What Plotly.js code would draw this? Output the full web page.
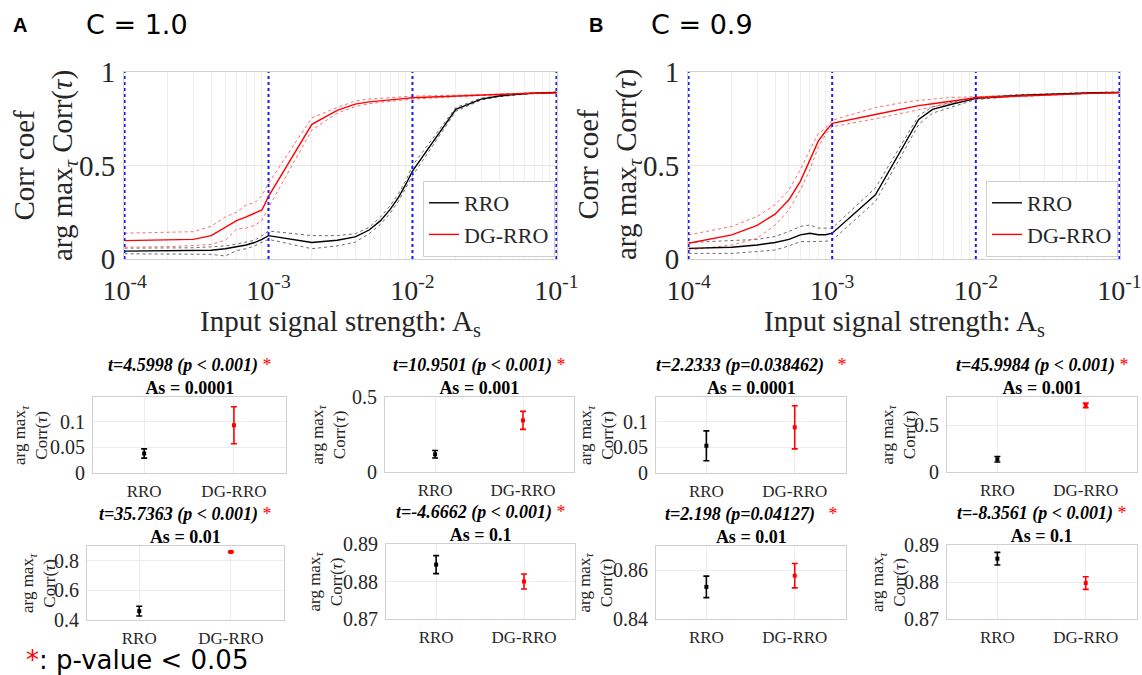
<!DOCTYPE html>
<html><head><meta charset="utf-8">
<script src="https://cdn.plot.ly/plotly-3.0.1.min.js"></script>
<style>html,body{margin:0;padding:0;background:#fff}#chart{width:1142px;height:675px}</style>
</head><body><div id="chart"></div>
<script>
// ---------------- DATA ----------------
const signalStrength = [1e-4,2e-4,3e-4,4e-4,5e-4,6e-4,7e-4,8e-4,9e-4,
  1e-3,2e-3,3e-3,4e-3,5e-3,6e-3,7e-3,8e-3,9e-3,
  1e-2,2e-2,3e-2,4e-2,5e-2,6e-2,7e-2,8e-2,9e-2,1e-1];
const decadeMarks = [1e-4,1e-3,1e-2,1e-1];
const decadeLabels = ['10<sup>-4</sup>','10<sup>-3</sup>','10<sup>-2</sup>','10<sup>-1</sup>'];

// Panel A (C = 1.0)
const rroMeanA  = [.042,.043,.044,.047,.055,.065,.075,.088,.105,.125,.088,.100,.118,.155,.205,.265,.330,.400,.470,.800,.855,.872,.880,.884,.887,.889,.890,.891];
const rroUpA    = [.058,.058,.060,.065,.070,.080,.090,.100,.125,.150,.125,.125,.135,.170,.225,.285,.350,.420,.500,.810,.860,.875,.883,.887,.889,.891,.892,.893];
const rroLoA    = [.028,.027,.026,.025,.016,.045,.055,.070,.090,.105,.055,.070,.090,.135,.185,.245,.310,.380,.445,.790,.850,.868,.877,.881,.885,.887,.888,.889];
const dgMeanA   = [.098,.100,.105,.125,.168,.205,.225,.243,.262,.335,.720,.795,.828,.840,.847,.852,.856,.859,.862,.872,.878,.881,.883,.885,.886,.887,.888,.888];
const dgUpA     = [.138,.142,.146,.175,.225,.250,.290,.300,.340,.405,.755,.810,.845,.855,.860,.864,.867,.869,.871,.876,.880,.883,.885,.886,.887,.888,.889,.889];
const dgLoA     = [.063,.066,.072,.078,.100,.160,.165,.180,.205,.275,.690,.780,.815,.830,.838,.843,.848,.852,.855,.868,.876,.879,.881,.883,.884,.885,.886,.887];

// Panel B (C = 0.9)
const rroMeanB  = [.057,.063,.075,.088,.105,.129,.138,.130,.130,.138,.343,.576,.746,.800,.818,.830,.840,.850,.859,.875,.881,.885,.887,.888,.889,.890,.891,.891];
const rroUpB    = [.088,.100,.105,.120,.147,.174,.182,.165,.165,.165,.380,.606,.767,.814,.830,.840,.850,.858,.866,.879,.884,.887,.889,.890,.891,.892,.892,.893];
const rroLoB    = [.030,.030,.040,.048,.070,.093,.093,.093,.095,.100,.308,.546,.720,.780,.800,.815,.830,.842,.853,.871,.878,.882,.885,.886,.887,.888,.889,.890];
const dgMeanB   = [.084,.129,.180,.240,.317,.415,.530,.630,.683,.725,.773,.800,.820,.830,.838,.845,.851,.857,.862,.872,.878,.881,.884,.886,.887,.888,.889,.889];
const dgUpB     = [.129,.174,.227,.290,.370,.477,.585,.670,.700,.742,.810,.835,.848,.857,.861,.864,.866,.867,.868,.876,.881,.884,.886,.888,.889,.890,.890,.891];
const dgLoB     = [.048,.075,.110,.182,.263,.370,.477,.600,.665,.707,.750,.780,.800,.814,.825,.835,.843,.850,.857,.868,.875,.879,.882,.884,.885,.886,.887,.888];

// Small comparison panels
const groups = ['RRO','DG-RRO'];
const asLabels = ['As = 0.0001','As = 0.001','As = 0.01','As = 0.1'];
const tStatsA = ['t=4.5998 (p &lt; 0.001)','t=10.9501 (p &lt; 0.001)','t=35.7363 (p &lt; 0.001)','t=-4.6662 (p &lt; 0.001)'];
const tStatsB = ['t=2.2333 (p=0.038462)&nbsp;&nbsp;','t=45.9984 (p &lt; 0.001)','t=2.198 (p=0.04127)&nbsp;&nbsp;','t=-8.3561 (p &lt; 0.001)'];
const smallRroMeanA = [0.038, 0.118, 0.460, 0.8845];
const smallRroErrA  = [0.009, 0.025, 0.033, 0.0024];
const smallDgMeanA  = [0.093, 0.344, 0.860, 0.8800];
const smallDgErrA   = [0.036, 0.060, 0.004, 0.0020];
const smallRroMeanB = [0.053, 0.136, 0.8532, 0.8863];
const smallRroErrB  = [0.029, 0.030, 0.0044, 0.0017];
const smallDgMeanB  = [0.089, 0.710, 0.8578, 0.8797];
const smallDgErrB   = [0.042, 0.025, 0.0050, 0.0017];
const smallYTicks = [[0,0.05,0.1],[0,0.5],[0.4,0.6,0.8],[0.87,0.88,0.89]];
const smallYTicksB = [[0,0.05,0.1],[0,0.5],[0.84,0.86],[0.87,0.88,0.89]];
const smallYRangeA = [[0,0.148],[0,0.5],[0.4,0.9],[0.87,0.89]];
const smallYRangeB = [[0,0.148],[0,0.8],[0.84,0.87],[0.87,0.89]];

// ---------------- LAYOUT HELPERS ----------------
const W = 1142, H = 675;
const fx = p => p / W, fy = p => 1 - p / H;
const SERIF = 'Liberation Serif, Times New Roman, serif';
const SANS = 'DejaVu Sans, sans-serif';
const TXT = '#262626';

const minorVals = [];
[1e-4,1e-3,1e-2].forEach(d => { for (let k = 2; k <= 9; k++) minorVals.push(d*k); });

const traces = [];
const shapes = [];
const annotations = [];
const layout = {
  width: W, height: H, margin: {l:0,r:0,t:0,b:0},
  paper_bgcolor: '#fff', plot_bgcolor: '#fff', showlegend: true,
  font: {family: SERIF, color: TXT}
};

function mainPanel(idx, box, rM, rU, rL, dM, dU, dL, legendId, legendRight) {
  const xa = idx === 1 ? 'x' : 'x' + idx, ya = idx === 1 ? 'y' : 'y' + idx;
  const xk = idx === 1 ? 'xaxis' : 'xaxis' + idx, yk = idx === 1 ? 'yaxis' : 'yaxis' + idx;
  const band = (y, col) => ({x: signalStrength, y, xaxis: xa, yaxis: ya, mode: 'lines',
    line: {color: col, width: 1, dash: 'dot'}, showlegend: false, hoverinfo: 'skip'});
  traces.push(band(rU, '#6a6a6a'), band(rL, '#6a6a6a'), band(dU, '#ff6a6a'), band(dL, '#ff6a6a'));
  traces.push({x: signalStrength, y: rM, xaxis: xa, yaxis: ya, mode: 'lines', name: 'RRO',
    line: {color: '#000', width: 1.4}, legend: legendId});
  traces.push({x: signalStrength, y: dM, xaxis: xa, yaxis: ya, mode: 'lines', name: 'DG-RRO',
    line: {color: '#ff0000', width: 1.4}, legend: legendId});
  layout[xk] = {type: 'log', range: [-4.004, -0.996], domain: [fx(box[0]), fx(box[1])], anchor: ya,
    tickmode: 'array', tickvals: decadeMarks, ticktext: decadeLabels, ticks: '',
    tickfont: {family: SERIF, size: 28, color: TXT}, ticklabelstandoff: 6, ticklabeloverflow: 'allow',
    showgrid: false, showline: true, linecolor: '#d0d0d0', mirror: true, zeroline: false,
    minor: {tickmode: 'array', tickvals: minorVals, showgrid: true, gridcolor: '#eeeeee', ticks: ''}};
  layout[yk] = {range: [0, 1], domain: [fy(box[3]), fy(box[2])], anchor: xa,
    tickmode: 'array', tickvals: [0, 0.5, 1], ticktext: ['0', '0.5', '1'], ticks: '',
    tickfont: {family: SERIF, size: 29, color: TXT}, ticklabelstandoff: 2,
    showgrid: true, gridcolor: '#e6e6e6', zeroline: false, showline: true, linecolor: '#d0d0d0', mirror: true};
  decadeMarks.forEach(v => shapes.push({type: 'line', xref: xa, yref: ya, x0: v, x1: v, y0: 0, y1: 1,
    line: {color: '#1a1aff', width: 2, dash: 'dot'}, layer: 'above'}));
  layout[legendId] = {x: fx(legendRight), xanchor: 'right', y: fy(box[3] - 2), yanchor: 'bottom',
    bgcolor: '#fff', bordercolor: '#cfcfcf', borderwidth: 1, itemwidth: 30,
    font: {family: SERIF, size: 22, color: TXT}, tracegroupgap: 0};
}

mainPanel(1, [124, 557, 72, 259], rroMeanA, rroUpA, rroLoA, dgMeanA, dgUpA, dgLoA, 'legend', 555);
mainPanel(2, [688, 1120, 72, 259], rroMeanB, rroUpB, rroLoB, dgMeanB, dgUpB, dgLoB, 'legend2', 1118);

function ann(x, y, text, opt) {
  annotations.push(Object.assign({xref: 'paper', yref: 'paper', x: fx(x), y: fy(y), text,
    showarrow: false, xanchor: 'center', yanchor: 'middle'}, opt || {}));
}

// panel headings
ann(20, 25, '<b>A</b>', {font: {family: 'Liberation Sans, Arial, sans-serif', size: 20, color: '#000'}});
ann(84, 25, 'C = 1.0', {xanchor: 'left', font: {family: SANS, size: 27, color: '#000'}});
ann(596, 25, '<b>B</b>', {font: {family: 'Liberation Sans, Arial, sans-serif', size: 20, color: '#000'}});
ann(649, 25, 'C = 0.9', {xanchor: 'left', font: {family: SANS, size: 27, color: '#000'}});

// main axis titles
const mainYTitle = 'Corr coef<br>arg max<sub><i>τ</i></sub> Corr(<i>τ</i>)';
const mainXTitle = 'Input signal strength: A<sub>s</sub>';
ann(45, 165, mainYTitle, {textangle: -90, font: {family: SERIF, size: 29, color: TXT}});
ann(609, 165, mainYTitle, {textangle: -90, font: {family: SERIF, size: 29, color: TXT}});
ann(340, 323, mainXTitle, {font: {family: SERIF, size: 29, color: TXT}});
ann(904, 323, mainXTitle, {font: {family: SERIF, size: 29, color: TXT}});

// small panels
const smallBoxes = [
  {box: [93, 286, 397, 473], yt: 30,  set: 'A', i: 0},
  {box: [385, 574, 397, 472], yt: 328, set: 'A', i: 1},
  {box: [656, 846, 397, 473], yt: 596, set: 'B', i: 0},
  {box: [947, 1137, 397, 472], yt: 898, set: 'B', i: 1},
  {box: [87, 284, 546, 620], yt: 38,  set: 'A', i: 2},
  {box: [386, 575, 544, 619], yt: 325, set: 'A', i: 3},
  {box: [656, 846, 546, 619], yt: 595, set: 'B', i: 2},
  {box: [947, 1137, 545, 619], yt: 888, set: 'B', i: 3}
];
const smallYTitle = 'arg max<sub><i>τ</i></sub><br>Corr(<i>τ</i>)';
smallBoxes.forEach((s, k) => {
  const n = k + 3, xa = 'x' + n, ya = 'y' + n;
  const A = s.set === 'A';
  const rM = (A ? smallRroMeanA : smallRroMeanB)[s.i], rE = (A ? smallRroErrA : smallRroErrB)[s.i];
  const dM = (A ? smallDgMeanA : smallDgMeanB)[s.i], dE = (A ? smallDgErrA : smallDgErrB)[s.i];
  traces.push({x: [groups[0]], y: [rM], xaxis: xa, yaxis: ya, mode: 'markers', showlegend: false,
    marker: {color: '#000', size: 4, symbol: 'square'},
    error_y: {type: 'data', array: [rE], color: '#000', thickness: 1.6, width: 3}});
  traces.push({x: [groups[1]], y: [dM], xaxis: xa, yaxis: ya, mode: 'markers', showlegend: false,
    marker: {color: '#ff0000', size: 4, symbol: 'square'},
    error_y: {type: 'data', array: [dE], color: '#ff0000', thickness: 1.6, width: 3}});
  const ticks = (A ? smallYTicks : smallYTicksB)[s.i];
  layout['xaxis' + n] = {type: 'category', categoryorder: 'array', categoryarray: groups,
    range: [-0.57, 1.58], domain: [fx(s.box[0]), fx(s.box[1])], anchor: ya, ticks: '',
    tickfont: {family: SERIF, size: 17, color: TXT}, showgrid: true, gridcolor: '#ececec',
    showline: true, linecolor: '#d0d0d0', mirror: true, zeroline: false, ticklabelstandoff: 3};
  layout['yaxis' + n] = {range: (A ? smallYRangeA : smallYRangeB)[s.i], domain: [fy(s.box[3]), fy(s.box[2])],
    anchor: xa, tickmode: 'array', tickvals: ticks, ticktext: ticks.map(String), ticks: '',
    tickfont: {family: SERIF, size: 20, color: TXT}, showgrid: true, gridcolor: '#ececec',
    showline: true, linecolor: '#d0d0d0', mirror: true, zeroline: false, ticklabelstandoff: 3};
  const tTxt = (A ? tStatsA : tStatsB)[s.i];
  const cx = (s.box[0] + s.box[1]) / 2;
  ann(cx, s.box[2] + 3, '<b><i>' + tTxt + '</i></b> <span style="color:#ff0000">*</span><br><b>' + asLabels[s.i] + '</b>',
    {yanchor: 'bottom', font: {family: SERIF, size: 18, color: '#000'}});
  ann(s.yt, (s.box[2] + s.box[3]) / 2, smallYTitle, {textangle: -90, font: {family: SERIF, size: 17, color: TXT}});
});

ann(24, 660, '<span style="color:#ff0000">*</span>: p-value &lt; 0.05', {xanchor: 'left', font: {family: SANS, size: 26, color: '#000'}});

layout.shapes = shapes;
layout.annotations = annotations;
Plotly.newPlot('chart', traces, layout, {displayModeBar: false, staticPlot: true});
</script>
</body></html>
